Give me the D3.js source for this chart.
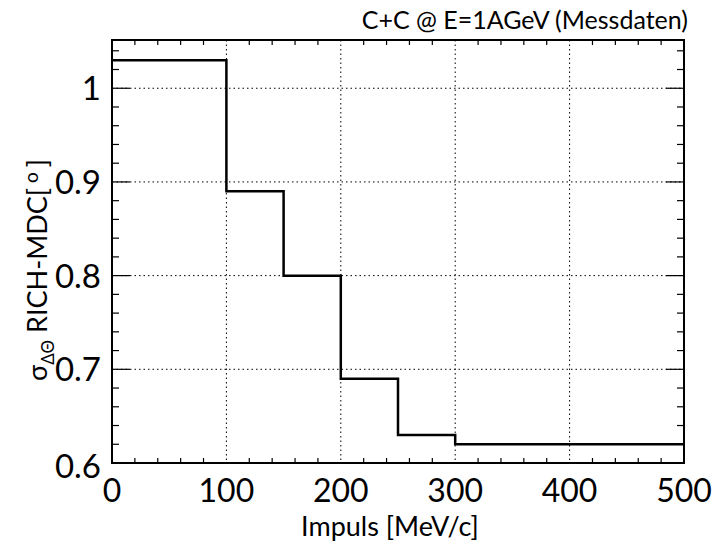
<!DOCTYPE html>
<html><head><meta charset="utf-8">
<script src="https://cdn.jsdelivr.net/npm/d3@7"></script>
<style>body{margin:0;background:#fff}svg{display:block}text{font-family:Lato,"Open Sans",sans-serif;fill:#000}</style>
</head><body><svg id="c" width="715" height="543"></svg>
<script>
const binEdges = [0, 100, 150, 200, 250, 300, 500];
const binValues = [1.03, 0.89, 0.80, 0.69, 0.63, 0.62];
const xTicks = [0, 100, 200, 300, 400, 500];
const yTicks = [0.6, 0.7, 0.8, 0.9, 1.0];
const yTickLabels = ["0.6", "0.7", "0.8", "0.9", "1"];
const title = "C+C @ E=1AGeV (Messdaten)";
const xTitle = "Impuls [MeV/c]";

const svg = d3.select("#c");
const L = 112, R = 684, T = 40, B = 463;
const x = d3.scaleLinear().domain([0, 500]).range([L, R]);
const y = d3.scaleLinear().domain([0.6, 1.0515]).range([B, T]);

// grid
const g = svg.append("g");
xTicks.slice(1, -1).forEach(v => g.append("line").attr("x1", x(v)).attr("x2", x(v)).attr("y1", T).attr("y2", B)
  .attr("stroke", "#000").attr("stroke-width", 1).attr("stroke-dasharray", "1.5,3"));
yTicks.slice(1).forEach(v => g.append("line").attr("x1", L).attr("x2", R).attr("y1", y(v)).attr("y2", y(v))
  .attr("stroke", "#000").attr("stroke-width", 1).attr("stroke-dasharray", "1.5,3"));

// ticks
const xMinor = d3.range(0, 501, 20);
const yMinor = d3.range(0, 23).map(i => 0.6 + i * 0.02).filter(v => v <= 1.05);
const tk = svg.append("g").attr("stroke", "#000").attr("stroke-width", 1.2);
xMinor.forEach(v => {
  const major = Math.abs(v % 100) < 1e-6;
  if (major) return;
  const len = 5;
  tk.append("line").attr("x1", x(v)).attr("x2", x(v)).attr("y1", B).attr("y2", B - len);
  tk.append("line").attr("x1", x(v)).attr("x2", x(v)).attr("y1", T).attr("y2", T + len);
});
yMinor.forEach(v => {
  const major = Math.abs(Math.round(v * 100) % 10) === 0;
  const len = major ? 18 : 7;
  tk.append("line").attr("x1", L).attr("x2", L + len).attr("y1", y(v)).attr("y2", y(v));
  tk.append("line").attr("x1", R).attr("x2", R - len).attr("y1", y(v)).attr("y2", y(v));
});

// histogram
let pts = [];
binValues.forEach((v, i) => { pts.push([binEdges[i], v]); pts.push([binEdges[i + 1], v]); });
const line = d3.line().x(d => x(d[0])).y(d => y(d[1]));
svg.append("path").attr("d", line(pts)).attr("fill", "none").attr("stroke", "#000").attr("stroke-width", 2.5);

// frame
svg.append("rect").attr("x", L).attr("y", T).attr("width", R - L).attr("height", B - T)
  .attr("fill", "none").attr("stroke", "#000").attr("stroke-width", 2);

// tick labels
xTicks.forEach(v => svg.append("text").attr("x", x(v)).attr("y", 502).attr("text-anchor", "middle")
  .attr("font-size", 32).text(v));
yTicks.forEach((v, i) => svg.append("text").attr("x", 101).attr("y", y(v) + 12 + (i === 0 ? 3 : 0)).attr("text-anchor", "end")
  .attr("font-size", 33).text(yTickLabels[i]));

// titles
svg.append("text").attr("x", 688).attr("y", 29).attr("text-anchor", "end").attr("font-size", 25).text(title);
svg.append("text").attr("x", 390).attr("y", 536).attr("text-anchor", "middle").attr("font-size", 27).text(xTitle);

const yl = svg.append("text").attr("transform", "translate(47,270) rotate(-90)").attr("text-anchor", "middle").attr("font-size", 27);
yl.append("tspan").text("σ");
yl.append("tspan").attr("font-size", 17).attr("dy", 7).text("ΔΘ");
yl.append("tspan").attr("dy", -7).text(" RICH-MDC[");
yl.append("tspan").attr("font-size", 19).attr("dy", -9).text(" o ");
yl.append("tspan").attr("dy", 9).text("]");
</script></body></html>
